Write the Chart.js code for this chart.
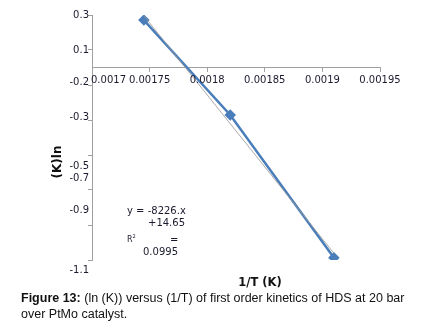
<!DOCTYPE html>
<html>
<head>
<meta charset="utf-8">
<script src="https://cdn.jsdelivr.net/npm/chart.js@4.4.1/dist/chart.umd.min.js"></script>
<style>
  body { margin: 0; background: #fff; }
  #wrap { position: relative; width: 447px; height: 329px; }
  canvas { position: absolute; left: 0; top: 0; }
  .t { position: absolute; font-family: "DejaVu Sans", sans-serif; color: #111; white-space: nowrap; }
  #ytitle { left: 57px; top: 162px; font-size: 12px; font-weight: bold; transform: translate(-50%, -50%) rotate(-90deg); }
  #xtitle { left: 260px; top: 282px; font-size: 11.5px; font-weight: bold; transform: translate(-50%, -50%); }
  .eq { font-size: 10px; color: #1a1a2e; }
  #caption { position: absolute; left: 21px; top: 290px; font-family: "Liberation Sans", Arial, sans-serif; font-size: 12.5px; line-height: 16px; color: #111; }
</style>
</head>
<body>
<div id="wrap">
  <canvas id="grafico" width="447" height="329"></canvas>
  <div class="t" id="ytitle">(K)ln</div>
  <div class="t" id="xtitle">1/T (K)</div>
  <div class="t eq" style="left:127px; top:205px;">y = -8226.x</div>
  <div class="t eq" style="left:148px; top:217px;">+14.65</div>
  <div class="t eq" style="left:127px; top:233px; font-size:8px;">R<sup style="font-size:5px">2</sup></div>
  <div class="t eq" style="left:170px; top:234px;">=</div>
  <div class="t eq" style="left:143px; top:246px;">0.0995</div>
  <div id="caption"><b>Figure 13:</b> (ln (K)) versus (1/T) of first order kinetics of HDS at 20 bar<br>over PtMo catalyst.</div>
</div>
<script>
// punti
const invT = [0.001745, 0.00182, 0.00191];
const lnK = [0.271, -0.271, -1.087];

// linea di tendenza dall'equazione
const slope = -8226;
const intercept = 14.65;

// assi
const xTicks = [0.0017, 0.00175, 0.0018, 0.00185, 0.0019, 0.00195];
const yTicks = [0.3, 0.1, -0.1, -0.3, -0.5, -0.7, -0.9, -1.1];
const yTickLabels = ['0.3', '0.1', '-0.2', '-0.3', '-0.5', '-0.7', '-0.9', '-1.1'];

const punti = invT.map((x, i) => ({ x: x, y: lnK[i] }));
const tendenza = [invT[0], invT[invT.length - 1]].map(x => ({ x: x, y: slope * x + intercept }));

// etichette spostate come nell'originale
const yLabelNudge = [0, 0, -3, -3, 11, -12, -15, 10];
const labelsPlugin = {
  id: 'assiLabels',
  afterDraw(chart) {
    const c = chart.ctx;
    const sy = chart.scales.y;
    const sx = chart.scales.x;
    c.save();
    c.font = '10px "DejaVu Sans"';
    c.fillStyle = '#1a1a2e';
    c.textBaseline = 'middle';
    c.textAlign = 'right';
    yTicks.forEach((v, i) => {
      c.fillText(yTickLabels[i], 89, sy.getPixelForValue(v) + yLabelNudge[i]);
    });
    const yAxe = sy.getPixelForValue(0) + 13;
    xTicks.forEach((v, i) => {
      const px = sx.getPixelForValue(v);
      c.textAlign = i === 0 ? 'left' : 'center';
      c.fillText(String(Number(v.toPrecision(3))), i === 0 ? px - 1 : px, yAxe);
    });
    c.restore();
  }
};

const ctx = document.getElementById('grafico').getContext('2d');
new Chart(ctx, {
  type: 'scatter',
  data: {
    datasets: [{
      data: punti,
      showLine: true,
      borderColor: '#4a7ebb',
      backgroundColor: '#4a7ebb',
      borderWidth: 2.5,
      pointStyle: 'rectRot',
      pointRadius: 4,
      order: 2
    }, {
      data: tendenza,
      showLine: true,
      borderColor: 'rgba(150,150,150,0.8)',
      borderWidth: 1,
      pointRadius: 0,
      order: 1
    }]
  },
  options: {
    responsive: false,
    animation: false,
    devicePixelRatio: 1,
    layout: { padding: { left: 92, top: 15, right: 67, bottom: 69 } },
    plugins: { legend: { display: false }, tooltip: { enabled: false } },
    scales: {
      x: {
        type: 'linear',
        position: { y: 0 },
        min: 0.0017,
        max: 0.00195,
        afterBuildTicks: s => { s.ticks = xTicks.map(v => ({ value: v })); },
        grid: { drawOnChartArea: false, drawTicks: true, tickLength: 4, color: '#a0a0a0' },
        border: { color: '#a0a0a0' },
        ticks: { display: false }
      },
      y: {
        type: 'linear',
        min: -1.1,
        max: 0.3,
        afterBuildTicks: s => { s.ticks = yTicks.map(v => ({ value: v })); },
        afterFit: s => { s.width = 0; },
        grid: { drawOnChartArea: false, drawTicks: true, tickLength: 4, color: '#a0a0a0' },
        border: { color: '#a0a0a0' },
        ticks: { display: false }
      }
    }
  },
  plugins: [labelsPlugin]
});
</script>
</body>
</html>
